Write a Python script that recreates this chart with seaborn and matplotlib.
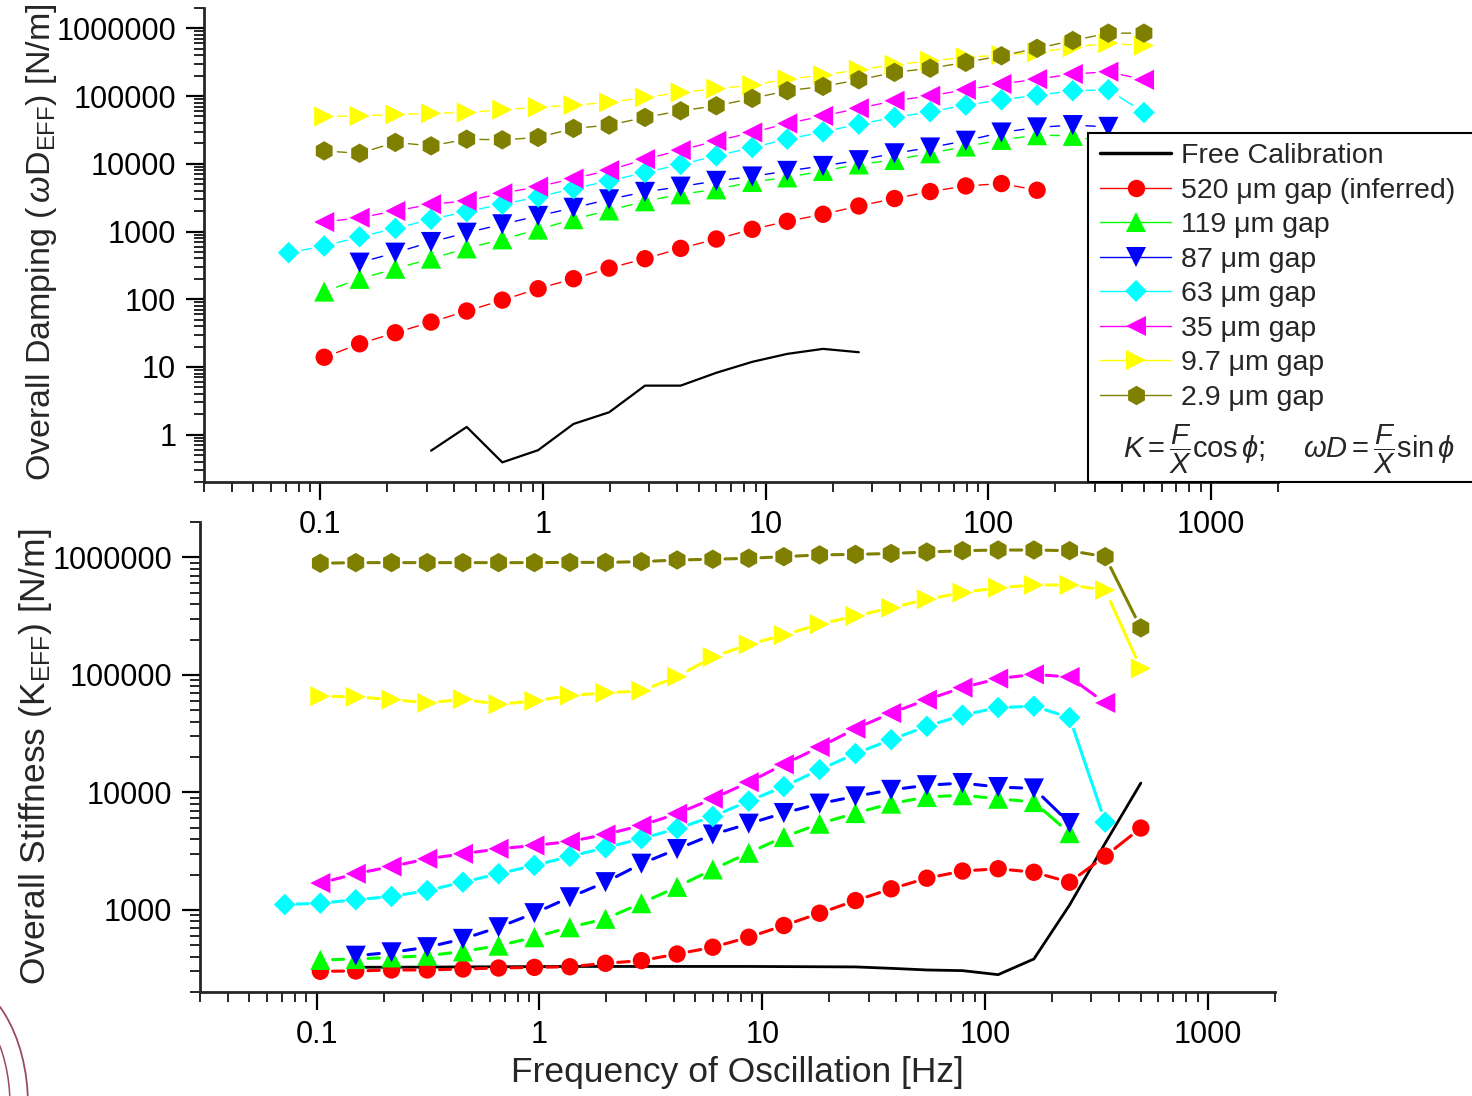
import numpy as np
import matplotlib
matplotlib.use('Agg')
import matplotlib.pyplot as plt
import seaborn as sns
from matplotlib.lines import Line2D
from matplotlib.patches import Rectangle, Arc
from matplotlib.ticker import FixedLocator, FixedFormatter, LogLocator, NullFormatter

sns.set_style('ticks')
plt.rcParams['font.family'] = ['Liberation Sans', 'DejaVu Sans']
plt.rcParams['mathtext.fontset'] = 'custom'
plt.rcParams['mathtext.rm'] = 'Liberation Sans'
plt.rcParams['mathtext.it'] = 'Liberation Sans:italic'
plt.rcParams['mathtext.bf'] = 'Liberation Sans:bold'

nan = np.nan

# ---------------- data ----------------
freq_hz = [0.072, 0.104, 0.150, 0.217, 0.314, 0.454, 0.656, 0.95, 1.37, 1.98,
           2.87, 4.15, 6.0, 8.7, 12.5, 18.1, 26.2, 37.9, 54.8, 79.2,
           114.5, 165.6, 239.5, 346, 500]

series_labels = ['Free Calibration', '520 \u03bcm gap (inferred)', '119 \u03bcm gap',
                 '87 \u03bcm gap', '63 \u03bcm gap', '35 \u03bcm gap',
                 '9.7 \u03bcm gap', '2.9 \u03bcm gap']
xtick_labels = ['0.1', '1', '10', '100', '1000']
ytick_labels_damping = ['1', '10', '100', '1000', '10000', '100000', '1000000']
ytick_labels_stiffness = ['1000', '10000', '100000', '1000000']

# Overall damping (omega*D_EFF) [N/m]
free_damping = [nan, nan, nan, nan, 0.58, 1.3, 0.39, 0.59, 1.44, 2.14, 5.3, 5.3, 8.2,
                11.9, 15.6, 18.5, 16.5, nan, nan, nan, nan, nan, nan, nan, nan]
gap520_damping = [nan, 13.9, 22, 32, 46, 67, 97, 143, 201, 288, 397, 564, 775, 1078,
                  1415, 1796, 2384, 3070, 3890, 4710, 5110, 4070, nan, nan, nan]
gap119_damping = [nan, 130, 200, 282, 398, 564, 767, 1070, 1520, 2050, 2800, 3550, 4200,
                  5400, 6300, 7860, 9800, 11400, 14300, 18000, 22600, 26500, 25900, 20000, nan]
gap87_damping = [nan, nan, 347, 487, 700, 960, 1280, 1700, 2240, 2990, 3850, 4600, 5600,
                 6500, 7860, 9300, 11300, 14300, 17400, 21900, 29000, 34500, 37300, 35100, nan]
gap63_damping = [487, 610, 835, 1110, 1515, 1970, 2530, 3240, 4310, 5600, 7440, 9800, 13100,
                 17400, 23100, 29600, 38500, 48400, 58700, 73600, 88100, 103000, 120000,
                 124000, 57200]
gap35_damping = [nan, 1380, 1600, 2010, 2530, 2830, 3670, 4600, 6050, 8040, 11700, 15900,
                 21800, 29000, 39400, 51000, 66000, 85400, 101000, 124000, 151000, 178000,
                 212000, 229000, 174000]
gap9p7_damping = [nan, 50000, 51000, 53500, 55500, 57200, 63000, 68300, 73600, 80700, 95700,
                  113000, 129000, 145000, 178000, 204000, 245000, 290000, 332000, 373000,
                  404000, 442000, 526000, 605000, 556000]
gap2p9_damping = [nan, 15500, 14300, 20700, 18400, 23100, 22600, 24500, 33300, 37300, 48400,
                  60600, 71900, 92500, 120000, 139000, 174000, 224000, 258000, 315000,
                  394000, 507000, 662000, 850000, 850000]

# Overall stiffness (K_EFF) [N/m]
free_stiffness = [nan, nan, 325, 325, 326, 327, 328, 329, 330, 330, 330, 330, 330, 330,
                  329, 328, 327, 318, 308, 304, 281, 382, 1100, 3700, 12000]
gap520_stiffness = [nan, 300, 302, 308, 308, 314, 320, 324, 328, 351, 370, 421, 481, 585,
                    736, 937, 1200, 1510, 1860, 2140, 2240, 2090, 1720, 2870, 4970]
gap119_stiffness = [nan, 375, 382, 394, 407, 443, 496, 585, 711, 839, 1140, 1570, 2210, 3060,
                    4170, 5410, 6670, 8020, 9140, 9460, 8830, 8270, 4500, nan, nan]
gap87_stiffness = [nan, nan, 407, 435, 481, 566, 711, 937, 1280, 1720, 2470, 3290, 4380,
                   5410, 6670, 8020, 9250, 10500, 11500, 12000, 11100, 10800, 5480, nan, nan]
gap63_stiffness = [1110, 1140, 1220, 1300, 1460, 1720, 2030, 2390, 2850, 3380, 4040, 4910,
                   6240, 8430, 11200, 15600, 21400, 28100, 36500, 45400, 52700, 54100, 43300,
                   5580, nan]
gap35_stiffness = [nan, 1690, 2030, 2340, 2720, 3000, 3310, 3530, 3820, 4380, 5230, 6580,
                   8830, 12200, 17300, 24300, 34800, 47300, 61500, 77900, 92900, 101000,
                   96000, 57700, nan]
gap9p7_stiffness = [nan, 65800, 65000, 61700, 57700, 62000, 56200, 60000, 66700, 70300, 73100,
                    96500, 142000, 182000, 218000, 270000, 317000, 372000, 440000, 501000,
                    552000, 582000, 582000, 527000, 113500]
gap2p9_stiffness = [nan, 891000, 902000, 902000, 902000, 902000, 902000, 902000, 906000,
                    906000, 920000, 950000, 964000, 982000, 1014000, 1050000, 1060000,
                    1080000, 1110000, 1140000, 1155000, 1155000, 1140000, 1014000, 251000]

damping_series = [free_damping, gap520_damping, gap119_damping, gap87_damping,
                  gap63_damping, gap35_damping, gap9p7_damping, gap2p9_damping]
stiffness_series = [free_stiffness, gap520_stiffness, gap119_stiffness, gap87_stiffness,
                    gap63_stiffness, gap35_stiffness, gap9p7_stiffness, gap2p9_stiffness]

# ---------------- styles ----------------
colors = ['#000000', '#FF0000', '#00FF00', '#0000FF', '#00FFFF', '#FF00FF', '#FFFF00', '#808000']
markers = [None, 'o', '^', 'v', 'D', '<', '>', 'h']
msizes = {'o': 12.5, '^': 14.5, 'v': 14.5, 'D': 11, '<': 14.5, '>': 14.5, 'h': 14}

W, H = 1472, 1096
fig = plt.figure(figsize=(W / 100, H / 100), dpi=100)
ax1 = fig.add_axes([204 / W, 1 - 482 / H, (1278 - 204) / W, (482 - 8) / H])
ax2 = fig.add_axes([200 / W, 1 - 992 / H, (1275 - 200) / W, (992 - 522) / H])

f = np.array(freq_hz)


def connect(ax, xs, ys, color, lw, shrink, z):
    pts = [(x, y) for x, y in zip(xs, ys) if not np.isnan(y)]
    for (x0, y0), (x1, y1) in zip(pts[:-1], pts[1:]):
        ax.annotate('', xy=(x1, y1), xytext=(x0, y0), xycoords='data', textcoords='data',
                    arrowprops=dict(arrowstyle='-', color=color, lw=lw,
                                    shrinkA=shrink, shrinkB=shrink),
                    zorder=z)


def draw_panel(ax, series, seg_lw, shrink, free_lw):
    for i, (vals, c, m) in enumerate(zip(series, colors, markers)):
        v = np.array(vals, dtype=float)
        ok = ~np.isnan(v)
        if m is None:
            sns.lineplot(x=f[ok], y=v[ok], color=c, lw=free_lw, ax=ax, sort=False,
                         estimator=None, zorder=2)
        else:
            connect(ax, f, v, c, seg_lw, shrink, 3 + 2 * i)
            sns.scatterplot(x=f[ok], y=v[ok], marker=m, s=msizes[m] ** 2, color=c,
                            edgecolor='none', linewidth=0, ax=ax, zorder=4 + 2 * i)


draw_panel(ax1, damping_series, 1.0, 9.5, 1.6)
draw_panel(ax2, stiffness_series, 2.2, 8.8, 2.0)

for ax, ylo, yticks, ylabels in [
        (ax1, 0.2, [1, 10, 100, 1e3, 1e4, 1e5, 1e6], ytick_labels_damping),
        (ax2, 200, [1e3, 1e4, 1e5, 1e6], ytick_labels_stiffness)]:
    ax.set_xscale('log')
    ax.set_yscale('log')
    ax.set_xlim(0.03, 2000)
    ax.set_ylim(ylo, 2e6)
    sns.despine(ax=ax)
    for s in ['left', 'bottom']:
        ax.spines[s].set_linewidth(2.0)
    ax.xaxis.set_major_locator(FixedLocator([0.1, 1, 10, 100, 1000]))
    ax.xaxis.set_major_formatter(FixedFormatter(xtick_labels))
    ax.xaxis.set_minor_locator(LogLocator(base=10, subs=np.arange(2, 10), numticks=50))
    ax.xaxis.set_minor_formatter(NullFormatter())
    ax.yaxis.set_major_locator(FixedLocator(yticks))
    ax.yaxis.set_major_formatter(FixedFormatter(ylabels))
    ax.yaxis.set_minor_locator(LogLocator(base=10, subs=np.arange(2, 10), numticks=50))
    ax.yaxis.set_minor_formatter(NullFormatter())
    ax.tick_params(which='major', direction='out', length=13, width=1.6, labelsize=22,
                   pad=7, colors='black')
    ax.tick_params(which='minor', direction='out', length=7, width=1.4)
    ax.set_facecolor('none')
    ax.grid(False)
    ax.set_xlabel('')

ax1.set_ylabel(r'Overall Damping ($\,\omega$D$_{\mathrm{EFF}}$) [N/m]', fontsize=24.5)
ax1.yaxis.set_label_coords(-0.135, 0.505)
ax2.set_ylabel(r'Overall Stiffness (K$_{\mathrm{EFF}}$) [N/m]', fontsize=25.5)
ax2.yaxis.set_label_coords(-0.136, 0.5)
ax2.set_xlabel('Frequency of Oscillation [Hz]', fontsize=25.5)
ax2.xaxis.set_label_coords(0.5, -0.137)

# legend box
fig.add_artist(Rectangle((1088 / W, 1 - 482 / H), (1490 - 1088) / W, (482 - 133) / H,
                         transform=fig.transFigure, facecolor='white', edgecolor='black',
                         lw=1.5, zorder=4))
handles = []
for c, m in zip(colors, markers):
    if m is None:
        handles.append(Line2D([0], [0], color=c, lw=2.5))
    else:
        handles.append(Line2D([0], [0], color=c, lw=1.0, marker=m,
                              markersize=msizes[m], markeredgewidth=0))
leg = fig.legend(handles, series_labels, loc='upper left',
                 bbox_to_anchor=(1100 / W, 1 - 143 / H), frameon=False, fontsize=20.5,
                 handlelength=2.5, handletextpad=0.35, labelspacing=0.3,
                 borderpad=0, borderaxespad=0)
leg.set_zorder(5)
fig.text(1289 / W, 1 - 449 / H,
         r'$K=\dfrac{F}{X}\cos\phi;\quad\ \omega D=\dfrac{F}{X}\sin\phi$',
         ha='center', va='center', fontsize=21, zorder=6)

# partial seal at the lower-left corner
seal_color = '#9A4A68'
for a, b, lw in [(80, 129, 1.3), (62, 108, 1.1)]:
    fig.add_artist(Arc((-0.52, -0.09), 2 * a / 100, 2 * b / 100, theta1=0, theta2=90,
                       transform=fig.dpi_scale_trans, color=seal_color, lw=lw, zorder=1))

fig.savefig('out.png', dpi=100)
